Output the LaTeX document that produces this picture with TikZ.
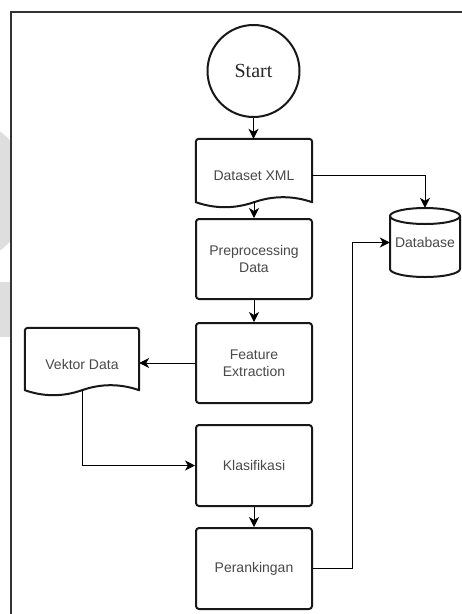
\documentclass[tikz,border=0pt]{standalone}
\usepackage{fontspec}
\setmainfont{Liberation Sans}
\newfontfamily\startfont{Liberation Serif}
\usetikzlibrary{arrows.meta,calc}
\definecolor{txt}{RGB}{72,72,72}
\definecolor{boxc}{RGB}{24,24,24}
\definecolor{wm}{RGB}{222,222,222}
\newcommand\drawdoc[2]{% #1 node name, #2 wave height above south
  \coordinate (#1-l) at ([yshift=#2]#1.south west);
  \coordinate (#1-r) at ([yshift=#2]#1.south east);
  \coordinate (#1-m) at ([yshift=#2]#1.south);
  \draw[boxline] (#1-l) [rounded corners=3pt] -- (#1.north west) -- (#1.north east) -- ($(#1-r)+(0,-6)$) [sharp corners] -- (#1-r)
    .. controls ($(#1-r)!1/3!(#1-m)+(0,-6.67)$) and ($(#1-r)!2/3!(#1-m)+(0,-6.67)$) .. (#1-m)
    .. controls ($(#1-m)!1/3!(#1-l)+(0,6.67)$) and ($(#1-m)!2/3!(#1-l)+(0,6.67)$) .. cycle;
}
\begin{document}
\begin{tikzpicture}[x=1pt,y=-1pt,
  boxline/.style={draw=boxc, line width=2pt, line join=round},
  lbl/.style={text=txt, font=\fontsize{14pt}{17pt}\selectfont, align=center, inner sep=0pt},
  proc/.style={lbl, boxline, rounded corners=3pt, rectangle, minimum width=116pt, minimum height=80pt},
  docnode/.style={lbl, rectangle},
  arr/.style={draw=black, line width=1pt, -{Stealth[length=10pt,width=10pt,inset=3pt]}}
]
\useasboundingbox (0,0) rectangle (462,614);
% watermark remnants
\begin{scope}
  \clip (0,0) rectangle (10.5,614);
  \fill[wm] (-44,191) circle (74pt);
  \fill[wm] (0,282) rectangle (11,337);
\end{scope}
% frame
\draw[line width=1.6pt, draw=black!80] (11,614) -- (11,12) -- (462,12);

% nodes
\node[circle, boxline, minimum size=92pt, inner sep=0pt, text=black!85,
      font=\startfont\fontsize{20pt}{24pt}\selectfont] (start) at (253.5,71) {Start};
\node[docnode, minimum width=116pt, minimum height=73pt] (ds) at (254,175.5) {Dataset XML};
\drawdoc{ds}{10pt}
\node[proc] (pre) at (254,259) {Preprocessing\\Data};
\node[proc] (feat) at (254,363) {Feature\\Extraction};
\node[docnode, minimum width=114pt, minimum height=72pt] (vk) at (82,364) {Vektor Data};
\drawdoc{vk}{10pt}
\node[proc, minimum height=81pt] (klas) at (254,465.5) {Klasifikasi};
\node[proc, minimum height=81pt] (rank) at (254,568.5) {Perankingan};
\node[lbl, rectangle, minimum width=70pt, minimum height=69pt] (db) at (425,242.5) {Database};
% cylinder outline of the database
\draw[boxline] (390,216) -- (390,269)
  arc[start angle=180, end angle=360, x radius=35pt, y radius=8pt] -- (460,216);
\draw[boxline] (425,216) ellipse [x radius=35pt, y radius=8pt];

% connectors
\draw[arr] (start.south) -- (start.south |- ds.north);
\draw[arr] (ds-m) -- (pre.north);
\draw[arr] (pre.south) -- (feat.north);
\draw[arr] (feat.west) -- (feat.west -| vk.east);
\draw[arr] (vk-m) |- (klas.west);
\draw[arr] (klas.south) -- (rank.north);
\draw[arr] (ds.east) -| (db.north);
\draw[arr] (rank.east) -- ++(39,0) |- (db.west);
\end{tikzpicture}
\end{document}
